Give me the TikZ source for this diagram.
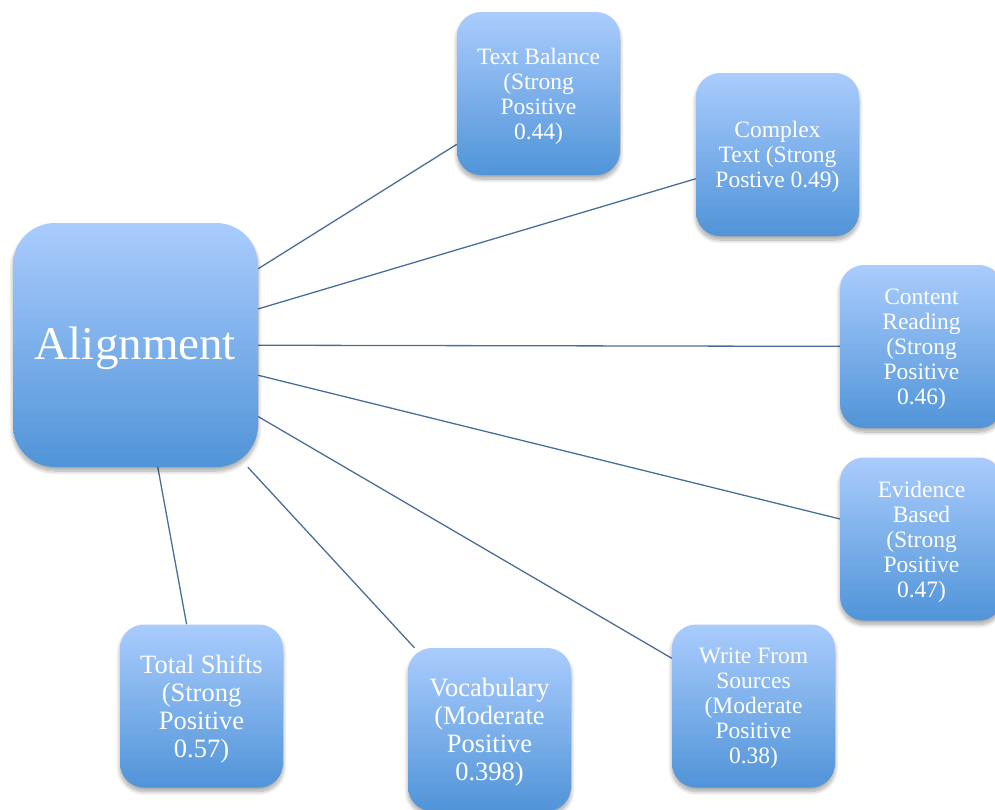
\documentclass[tikz,border=0pt]{standalone}
\usepackage{fontspec}
\setmainfont{Liberation Serif}
\usetikzlibrary{shadows,shadows.blur,backgrounds}
\definecolor{boxtop}{RGB}{170,204,253}
\definecolor{boxbot}{RGB}{80,148,216}
\definecolor{linkc}{RGB}{74,110,155}
\begin{document}
\begin{tikzpicture}[x=1pt,y=-1pt,
  box/.style={rounded corners=24pt, minimum width=163pt, minimum height=163pt,
    top color=boxtop, bottom color=boxbot, inner sep=0pt,
    blur shadow={shadow blur steps=10, shadow blur radius=4pt, shadow xshift=0pt, shadow yshift=-4pt, shadow opacity=35}},
  boxtext/.style={text=white, align=center, inner sep=0pt, yshift=-2.5pt,
    font=\fontsize{23.5}{25}\selectfont},
  bigtext/.style={boxtext, font=\fontsize{26.5}{28}\selectfont},
  link/.style={draw=linkc, line width=1.3pt}]
\useasboundingbox (0,0) rectangle (995,809);
\node[box, minimum width=245pt, minimum height=244pt, rounded corners=42pt,
  label={[boxtext, font=\fontsize{47}{50}\selectfont, yshift=-1pt]center:Alignment}] (align) at (135.5,345) {};
\node[box, label={[boxtext]center:{Text Balance\\(Strong\\Positive\\0.44)}}] (tb) at (538.5,93.5) {};
\node[box, label={[boxtext]center:{Complex\\Text (Strong\\Postive 0.49)}}] (ct) at (777.5,154.5) {};
\node[box, label={[boxtext]center:{Content\\Reading\\(Strong\\Positive\\0.46)}}] (cr) at (921.5,346.5) {};
\node[box, label={[boxtext]center:{Evidence\\Based\\(Strong\\Positive\\0.47)}}] (eb) at (921.5,539) {};
\node[box, label={[boxtext]center:{Write From\\Sources\\(Moderate\\Positive\\0.38)}}] (ws) at (753.5,706) {};
\node[box, label={[bigtext]center:{Vocabulary\\(Moderate\\Positive\\0.398)}}] (voc) at (489.5,729.5) {};
\node[box, label={[bigtext]center:{Total Shifts\\(Strong\\Positive\\0.57)}}] (ts) at (201.5,706) {};
\begin{scope}[on background layer]
\foreach \t in {tb,ct,cr,eb,ws,voc,ts}{\draw[link] (align) -- (\t);}
\end{scope}
\end{tikzpicture}
\end{document}
